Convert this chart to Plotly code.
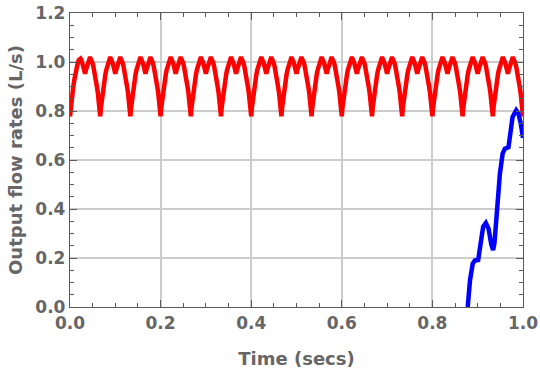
import plotly.graph_objects as go

# Red series: one cycle profile (phase within cycle, L/s)
red_cycle_phase = [0, 0.02, 0.05, 0.08, 0.11, 0.14, 0.17, 0.20, 0.23, 0.26, 0.29, 0.32, 0.35,
                   0.38, 0.41, 0.44, 0.47, 0.5,
                   0.53, 0.56, 0.59, 0.62, 0.65, 0.68, 0.71, 0.74, 0.77, 0.80, 0.83,
                   0.86, 0.89, 0.92, 0.95, 0.98, 1.0]
red_cycle_value = [0.778, 0.81, 0.845, 0.875, 0.90, 0.925, 0.948, 0.967, 0.984, 0.998, 1.008, 1.014, 1.014,
                   1.008, 0.997, 0.983, 0.968, 0.952,
                   0.968, 0.983, 0.997, 1.008, 1.014, 1.014, 1.008, 0.998, 0.984, 0.967, 0.948,
                   0.925, 0.90, 0.875, 0.845, 0.81, 0.778]
# Times of the deep dips (secs)
red_dip_times = [0.0, 0.0667, 0.1333, 0.2, 0.2667, 0.3333, 0.4, 0.4667, 0.5333,
                 0.6, 0.6667, 0.7333, 0.8, 0.8667, 0.9333, 1.0]

# Blue series (secs, L/s)
blue_t = [0.878, 0.883, 0.889, 0.894, 0.901, 0.906, 0.912, 0.918, 0.924, 0.930, 0.934,
          0.937, 0.942, 0.949, 0.955, 0.960, 0.968, 0.971, 0.977, 0.985, 0.990, 0.995, 1.0]
blue_v = [0.0, 0.109, 0.177, 0.190, 0.192, 0.259, 0.327, 0.343, 0.320, 0.255, 0.232,
          0.26, 0.381, 0.544, 0.626, 0.646, 0.652, 0.708, 0.776, 0.803, 0.789, 0.749, 0.690]

x_ticks = [0.0, 0.2, 0.4, 0.6, 0.8, 1.0]
x_tick_labels = ["0.0", "0.2", "0.4", "0.6", "0.8", "1.0"]
y_ticks = [0.0, 0.2, 0.4, 0.6, 0.8, 1.0, 1.2]
y_tick_labels = ["0.0", "0.2", "0.4", "0.6", "0.8", "1.0", "1.2"]

red_t, red_v = [], []
for i in range(len(red_dip_times) - 1):
    t0, t1 = red_dip_times[i], red_dip_times[i + 1]
    for j, (p, v) in enumerate(zip(red_cycle_phase, red_cycle_value)):
        if i > 0 and j == 0:
            continue
        red_t.append(t0 + p * (t1 - t0))
        red_v.append(v)

fig = go.Figure()
fig.add_trace(go.Scatter(x=red_t, y=red_v, mode="lines",
                         line=dict(color="#ff0000", width=4.5)))
fig.add_trace(go.Scatter(x=blue_t, y=blue_v, mode="lines",
                         line=dict(color="#0000ff", width=4.5)))

font_color = "#666666"
fam = "DejaVu Sans"
axis_common = dict(
    showline=True, linecolor="#5a5a5a", linewidth=1.3, mirror="allticks",
    ticks="inside", ticklen=7, tickwidth=1.2, tickcolor="#5a5a5a",
    showgrid=True, gridcolor="#cccccc", gridwidth=2,
    zeroline=False, automargin=False,
    tickfont=dict(family=fam, size=17, color=font_color, weight="bold"),
    minor=dict(dtick=0.05, ticks="inside", ticklen=4, tickwidth=1, tickcolor="#5a5a5a", showgrid=False),
)

fig.update_xaxes(range=[0, 1], tickvals=x_ticks, ticktext=x_tick_labels, **axis_common,
                 title=dict(text="<b>Time (secs)</b>", standoff=20,
                            font=dict(family=fam, size=18, color=font_color)))
fig.update_yaxes(range=[0, 1.2], tickvals=y_ticks, ticktext=y_tick_labels, **axis_common,
                 title=dict(text="<b>Output flow rates (L/s)</b>", standoff=8,
                            font=dict(family=fam, size=18, color=font_color)))

fig.update_layout(
    width=540, height=373,
    margin=dict(l=70, r=17, t=13, b=66),
    paper_bgcolor="white", plot_bgcolor="white",
    showlegend=False,
)

fig.write_html("out.html", config={"displayModeBar": False},
               post_script="document.body.style.margin='0';")
